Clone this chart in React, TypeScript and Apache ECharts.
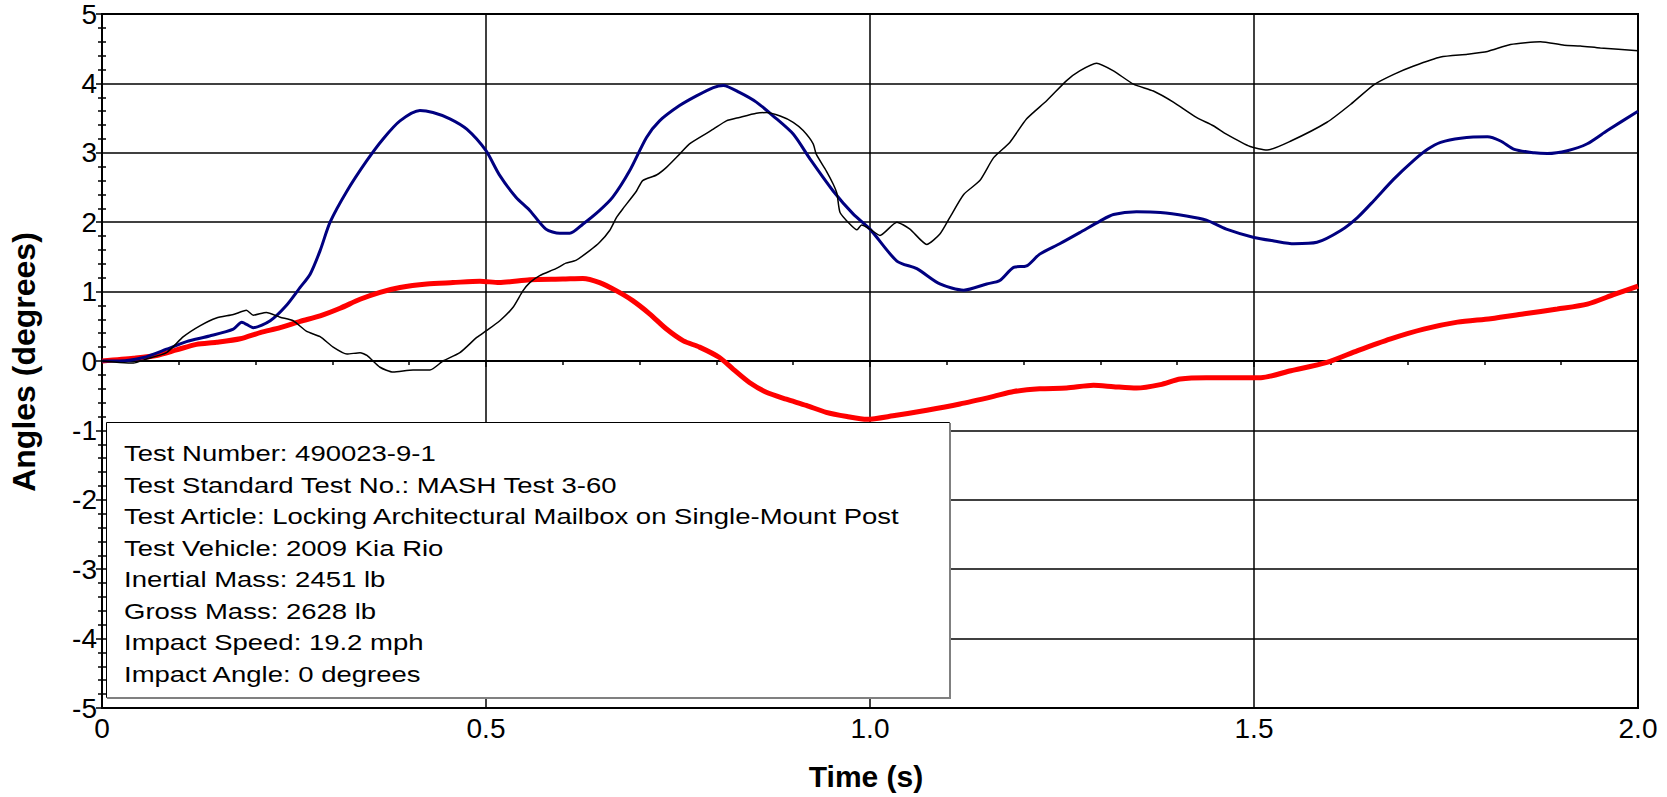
import React, { useEffect, useRef } from "react";
import * as echarts from "echarts";

// Black trace
const blackT = [0, 0.023, 0.041, 0.058, 0.084, 0.106, 0.128, 0.149, 0.171, 0.188, 0.197, 0.214, 0.232, 0.249, 0.266, 0.284, 0.301, 0.319, 0.336, 0.345, 0.362, 0.379, 0.405, 0.427, 0.444, 0.466, 0.488, 0.501, 0.518, 0.535, 0.548, 0.557, 0.57, 0.591, 0.604, 0.617, 0.635, 0.648, 0.661, 0.67, 0.678, 0.696, 0.704, 0.722, 0.735, 0.752, 0.765, 0.796, 0.813, 0.83, 0.852, 0.865, 0.883, 0.9, 0.913, 0.926, 0.93, 0.943, 0.952, 0.957, 0.961, 0.974, 0.983, 0.989, 1.0, 1.013, 1.035, 1.052, 1.074, 1.091, 1.104, 1.122, 1.143, 1.161, 1.182, 1.204, 1.23, 1.256, 1.273, 1.295, 1.317, 1.343, 1.369, 1.395, 1.425, 1.447, 1.464, 1.495, 1.517, 1.548, 1.595, 1.626, 1.656, 1.682, 1.708, 1.743, 1.778, 1.804, 1.834, 1.873, 1.904, 1.925, 1.951, 2.0];
const blackV = [0, -0.02, -0.03, 0.03, 0.12, 0.35, 0.51, 0.62, 0.67, 0.73, 0.66, 0.7, 0.63, 0.58, 0.43, 0.35, 0.2, 0.1, 0.12, 0.08, -0.09, -0.16, -0.13, -0.13, 0.0, 0.12, 0.34, 0.44, 0.58, 0.77, 1.01, 1.13, 1.23, 1.33, 1.41, 1.45, 1.59, 1.71, 1.88, 2.07, 2.19, 2.45, 2.6, 2.68, 2.79, 2.98, 3.13, 3.34, 3.46, 3.51, 3.57, 3.58, 3.53, 3.44, 3.32, 3.13, 2.98, 2.74, 2.55, 2.41, 2.14, 1.97, 1.89, 1.96, 1.9, 1.81, 2.0, 1.9, 1.68, 1.83, 2.07, 2.4, 2.6, 2.93, 3.15, 3.49, 3.75, 4.04, 4.18, 4.29, 4.18, 3.99, 3.89, 3.73, 3.51, 3.39, 3.27, 3.09, 3.04, 3.17, 3.44, 3.7, 3.98, 4.13, 4.25, 4.38, 4.42, 4.46, 4.56, 4.6, 4.55, 4.54, 4.51, 4.47];

// Blue trace
const blueT = [0, 0.023, 0.054, 0.084, 0.11, 0.14, 0.171, 0.182, 0.197, 0.219, 0.24, 0.258, 0.271, 0.284, 0.297, 0.319, 0.345, 0.366, 0.388, 0.414, 0.431, 0.453, 0.475, 0.5, 0.517, 0.539, 0.557, 0.578, 0.596, 0.609, 0.626, 0.648, 0.665, 0.687, 0.709, 0.726, 0.752, 0.774, 0.796, 0.809, 0.83, 0.852, 0.874, 0.9, 0.922, 0.952, 0.978, 1.0, 1.035, 1.061, 1.091, 1.122, 1.152, 1.169, 1.187, 1.204, 1.221, 1.247, 1.273, 1.3, 1.317, 1.347, 1.378, 1.412, 1.438, 1.464, 1.5, 1.526, 1.552, 1.582, 1.613, 1.635, 1.656, 1.682, 1.708, 1.726, 1.743, 1.769, 1.804, 1.821, 1.839, 1.865, 1.882, 1.908, 1.934, 1.96, 2.0];
const blueV = [0, 0.0, 0.05, 0.17, 0.28, 0.36, 0.46, 0.56, 0.48, 0.58, 0.8, 1.06, 1.25, 1.59, 2.0, 2.45, 2.89, 3.2, 3.46, 3.61, 3.58, 3.49, 3.34, 3.03, 2.69, 2.36, 2.17, 1.9, 1.84, 1.84, 1.97, 2.17, 2.36, 2.74, 3.22, 3.46, 3.68, 3.82, 3.94, 3.97, 3.87, 3.73, 3.53, 3.27, 2.91, 2.45, 2.12, 1.9, 1.44, 1.33, 1.11, 1.02, 1.11, 1.16, 1.35, 1.37, 1.54, 1.69, 1.85, 2.02, 2.11, 2.15, 2.14, 2.09, 2.03, 1.9, 1.78, 1.73, 1.69, 1.71, 1.88, 2.07, 2.31, 2.62, 2.89, 3.05, 3.15, 3.21, 3.23, 3.17, 3.05, 3.0, 2.99, 3.03, 3.13, 3.32, 3.6];

// Red trace
const redT = [0, 0.041, 0.071, 0.097, 0.123, 0.149, 0.18, 0.206, 0.232, 0.258, 0.284, 0.31, 0.336, 0.362, 0.388, 0.423, 0.457, 0.492, 0.517, 0.557, 0.6, 0.626, 0.648, 0.67, 0.691, 0.713, 0.735, 0.757, 0.778, 0.804, 0.822, 0.843, 0.865, 0.891, 0.917, 0.943, 0.97, 0.996, 1.03, 1.074, 1.117, 1.161, 1.187, 1.221, 1.256, 1.291, 1.317, 1.347, 1.378, 1.404, 1.438, 1.473, 1.509, 1.548, 1.595, 1.635, 1.678, 1.721, 1.765, 1.808, 1.852, 1.895, 1.934, 1.969, 2.0];
const redV = [0, 0.04, 0.08, 0.16, 0.24, 0.27, 0.32, 0.41, 0.48, 0.57, 0.65, 0.76, 0.89, 0.99, 1.06, 1.11, 1.13, 1.15, 1.13, 1.17, 1.18, 1.19, 1.13, 1.01, 0.87, 0.68, 0.46, 0.29, 0.2, 0.05, -0.12, -0.31, -0.45, -0.55, -0.64, -0.74, -0.8, -0.84, -0.79, -0.71, -0.62, -0.51, -0.44, -0.4, -0.39, -0.35, -0.37, -0.39, -0.34, -0.26, -0.24, -0.24, -0.24, -0.14, -0.02, 0.15, 0.32, 0.46, 0.56, 0.61, 0.68, 0.75, 0.82, 0.96, 1.08];

const infoLines = [
  "Test Number: 490023-9-1",
  "Test Standard Test No.: MASH Test 3-60",
  "Test Article: Locking Architectural Mailbox on Single-Mount Post",
  "Test Vehicle: 2009 Kia Rio",
  "Inertial Mass: 2451 lb",
  "Gross Mass: 2628 lb",
  "Impact Speed: 19.2 mph",
  "Impact Angle: 0 degrees",
];

const xTitle = "Time (s)";
const yTitle = "Angles (degrees)";

const FONT = '"Liberation Sans", Arial, sans-serif';

const pairs = (t: number[], v: number[]) => t.map((x, i) => [x, v[i]]);

export default function App() {
  const ref = useRef<HTMLDivElement>(null);
  useEffect(() => {
    if (!ref.current) return;
    const chart = echarts.init(ref.current, undefined, { renderer: "svg" });
    const gridLeft = 102;
    const gridTop = 14;
    const gridW = 1536;
    const gridH = 694;
    const baseY = {
      type: "value",
      min: -5,
      max: 5,
      interval: 1,
      gridIndex: 0,
      position: "left",
    };
    const graphics: any[] = [
      {
        type: "rect",
        z: 100,
        shape: { x: 106.5, y: 422.5, width: 843, height: 275 },
        style: { fill: "#fff", stroke: "#000", lineWidth: 1 },
      },
      {
        type: "polyline",
        z: 101,
        shape: { points: [[107, 698], [950, 698], [950, 423]] },
        style: { fill: null, stroke: "#808080", lineWidth: 2 },
      },
      ...infoLines.map((txt, i) => ({
        type: "text",
        z: 102,
        x: 124,
        y: 453 + i * 31.5,
        scaleX: 1.25,
        scaleY: 1.03,
        style: {
          text: txt,
          fontSize: 22,
          fontFamily: FONT,
          fill: "#000",
          align: "left",
          verticalAlign: "middle",
        },
      })),
      {
        type: "text",
        x: 866,
        y: 776,
        style: {
          text: xTitle,
          fontSize: 30,
          fontWeight: "bold",
          fontFamily: FONT,
          fill: "#000",
          align: "center",
          verticalAlign: "middle",
        },
      },
      {
        type: "text",
        x: 24,
        y: 362,
        rotation: Math.PI / 2,
        style: {
          text: yTitle,
          fontSize: 32,
          fontWeight: "bold",
          fontFamily: FONT,
          fill: "#000",
          align: "center",
          verticalAlign: "middle",
        },
      },
    ];
    chart.setOption({
      animation: false,
      backgroundColor: "#fff",
      grid: {
        left: gridLeft,
        top: gridTop,
        width: gridW,
        height: gridH,
        show: true,
        borderColor: "#000",
        borderWidth: 2,
        backgroundColor: "transparent",
      },
      xAxis: {
        type: "value",
        min: 0,
        max: 2,
        interval: 0.5,
        axisLine: { show: true, lineStyle: { color: "#000", width: 2 } },
        axisTick: { show: true, length: 6, lineStyle: { color: "#000", width: 1.5 } },
        minorTick: { show: true, splitNumber: 5, length: 4, lineStyle: { color: "#000", width: 1.5 } },
        splitLine: { show: true, lineStyle: { color: "#000", width: 1.5 } },
        axisLabel: {
          color: "#000",
          fontSize: 28,
          fontFamily: FONT,
          margin: 6,
          formatter: (v: number) => (v === 0 ? "0" : v.toFixed(1)),
        },
      },
      yAxis: [
        {
          ...baseY,
          axisLine: { show: true, lineStyle: { color: "#000", width: 2 } },
          axisTick: { show: true, length: 6, lineStyle: { color: "#000", width: 1.5 } },
          minorTick: { show: true, splitNumber: 5, length: 4, lineStyle: { color: "#000", width: 1.5 } },
          splitLine: { show: true, lineStyle: { color: "#000", width: 1.5 } },
          axisLabel: {
            color: "#000",
            fontSize: 28,
            fontFamily: FONT,
            margin: 5,
            formatter: (v: number) => String(v),
          },
        },
        {
          ...baseY,
          axisLine: { show: false },
          axisTick: { show: false, inside: true },
          minorTick: { show: true, splitNumber: 5, length: 4, lineStyle: { color: "#000", width: 1.5 } },
          splitLine: { show: false },
          axisLabel: { show: false },
        },
      ],
      graphic: graphics,
      series: [
        {
          type: "line",
          name: "red",
          data: pairs(redT, redV),
          showSymbol: false,
          smooth: 0.25,
          lineStyle: { color: "#ff0000", width: 5 },
          z: 3,
        },
        {
          type: "line",
          name: "blue",
          data: pairs(blueT, blueV),
          showSymbol: false,
          smooth: 0.25,
          lineStyle: { color: "#000080", width: 3 },
          z: 4,
        },
        {
          type: "line",
          name: "black",
          data: pairs(blackT, blackV),
          showSymbol: false,
          smooth: 0.2,
          lineStyle: { color: "#000", width: 1.5 },
          z: 5,
        },
      ],
    });
    return () => chart.dispose();
  }, []);
  return (
    <div
      ref={ref}
      style={{ position: "fixed", left: 0, top: 0, width: 1667, height: 797 }}
    />
  );
}
